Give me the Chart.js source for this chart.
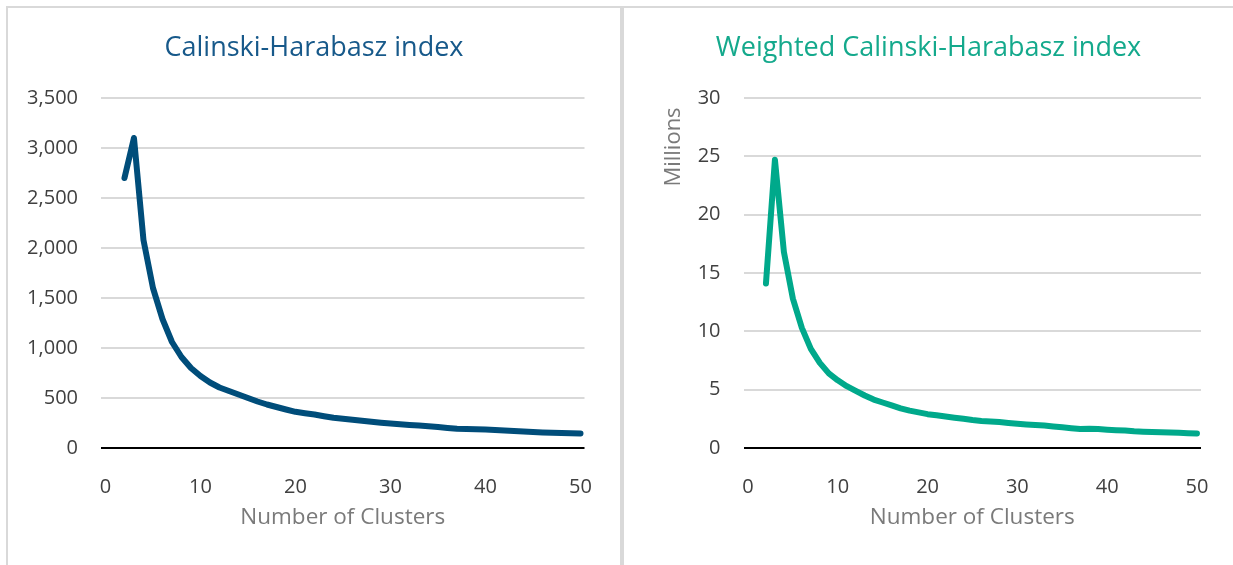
<!DOCTYPE html>
<html>
<head>
<meta charset="utf-8">
<script src="https://cdn.jsdelivr.net/npm/chart.js@4.4.0/dist/chart.umd.min.js"></script>
<style>
  body { margin: 0; background: #fff; width: 1233px; height: 565px; overflow: hidden; position: relative; }
  .frame { position: absolute; left: 6px; top: 6px; width: 1227px; height: 565px; border-top: 2px solid #d9d9d9; border-left: 2px solid #d9d9d9; box-sizing: border-box; }
  .sep { position: absolute; left: 620px; top: 6px; width: 4px; height: 565px; background: #d9d9d9; }
  .box { position: absolute; top: 8px; height: 557px; }
  #left-box { left: 8px; width: 612px; }
  #right-box { left: 624px; width: 609px; }
</style>
</head>
<body>
<div class="frame"></div>
<div class="sep"></div>
<div class="box" id="left-box"><canvas id="ch-chart"></canvas></div>
<div class="box" id="right-box"><canvas id="wch-chart"></canvas></div>
<script>
// number of clusters
const clusters = [2, 3, 4, 5, 6, 7, 8, 9, 10, 11, 12, 13, 14, 15, 16, 17, 18, 19, 20, 21, 22, 23, 24, 25, 26,
    27, 28, 29, 30, 31, 32, 33, 34, 35, 36, 37, 38, 39, 40, 41, 42, 43, 44, 45, 46, 47, 48, 49, 50];

// Calinski-Harabasz index
const chIndex = [2700, 3100, 2080, 1600, 1290, 1060, 910, 800, 720, 655, 605, 570, 535, 500, 465, 435, 410,
    385, 362, 348, 335, 318, 302, 292, 282, 272, 262, 253, 245, 238, 231, 225, 218, 209, 200, 192, 190, 188,
    185, 180, 175, 170, 165, 160, 156, 153, 150, 147, 145];

// Weighted Calinski-Harabasz index (millions)
const weightedCh = [14.1, 24.7, 16.8, 12.8, 10.3, 8.5, 7.3, 6.4, 5.8, 5.3, 4.9, 4.5, 4.15, 3.9, 3.65, 3.4,
    3.2, 3.05, 2.9, 2.8, 2.7, 2.6, 2.5, 2.4, 2.32, 2.27, 2.22, 2.15, 2.08, 2.02, 1.97, 1.92, 1.85, 1.78, 1.7,
    1.62, 1.65, 1.62, 1.57, 1.53, 1.5, 1.43, 1.4, 1.37, 1.35, 1.32, 1.3, 1.27, 1.25];

const xTicks = [0, 10, 20, 30, 40, 50];
const chTicks = [0, 500, 1000, 1500, 2000, 2500, 3000, 3500];
const wchTicks = [0, 5, 10, 15, 20, 25, 30];

const FONT = "'Open Sans', 'Noto Sans', sans-serif";

// "Millions" display unit label, like Excel puts it near the top of the axis
const millionsLabel = {
    id: 'millionsLabel',
    afterDraw(chart) {
        const area = chart.chartArea;
        const ctx = chart.ctx;
        ctx.save();
        ctx.translate(area.left - 69.5, area.top + 49);
        ctx.rotate(-Math.PI / 2);
        ctx.font = '22px ' + FONT;
        ctx.fillStyle = '#7a7a7a';
        ctx.textAlign = 'center';
        ctx.textBaseline = 'middle';
        ctx.fillText('Millions', 0, 0);
        ctx.restore();
    }
};

function makeChart(canvas, opts) {
    const config = {
        type: 'line',
        data: {
            datasets: [{
                data: clusters.map((c, i) => ({ x: c, y: opts.values[i] })),
                borderColor: opts.lineColor,
                borderWidth: 6,
                borderCapStyle: 'round',
                borderJoinStyle: 'round',
                pointRadius: 0,
                tension: 0,
                fill: false
            }]
        },
        options: {
            responsive: true,
            maintainAspectRatio: false,
            animation: false,
            layout: { padding: 0 },
            plugins: {
                legend: { display: false },
                tooltip: { enabled: false },
                title: {
                    display: true,
                    text: opts.title,
                    color: opts.titleColor,
                    font: { family: FONT, size: 27, weight: 'normal' },
                    padding: { top: 24, bottom: 33.6 }
                }
            },
            scales: {
                x: {
                    type: 'linear',
                    min: opts.xMin,
                    max: opts.xMax,
                    afterBuildTicks: (scale) => { scale.ticks = xTicks.map(v => ({ value: v })); },
                    afterFit: (scale) => { scale.height = 117; },
                    grid: { display: false },
                    border: { display: false },
                    ticks: { color: '#404040', padding: 19, font: { family: FONT, size: 20 } },
                    title: {
                        display: true,
                        text: 'Number of Clusters',
                        color: '#7a7a7a',
                        font: { family: FONT, size: 22.5 },
                        padding: { top: 0, bottom: 34 }
                    }
                },
                y: {
                    min: 0,
                    max: opts.yTicks[opts.yTicks.length - 1],
                    afterBuildTicks: (scale) => { scale.ticks = opts.yTicks.map(v => ({ value: v })); },
                    afterFit: (scale) => { scale.width = opts.yWidth; },
                    grid: {
                        drawTicks: false,
                        lineWidth: 2,
                        color: (c) => c.tick && c.tick.value === 0 ? '#000000' : '#d9d9d9'
                    },
                    border: { display: false },
                    ticks: {
                        color: '#404040',
                        padding: 23,
                        font: { family: FONT, size: 20 },
                        callback: (v) => v.toLocaleString('en-US')
                    }
                },
                // empty right axis, only keeps the white margin on the right of the plot
                spacer: {
                    position: 'right',
                    min: 0,
                    max: 1,
                    afterFit: (scale) => { scale.width = opts.rightGap; },
                    grid: { display: false },
                    border: { display: false },
                    ticks: { display: false }
                }
            }
        },
        plugins: opts.plugins || []
    };
    return new Chart(canvas, config);
}

makeChart(document.querySelector('#ch-chart'), {
    values: chIndex,
    title: 'Calinski-Harabasz index',
    titleColor: '#17598a',
    lineColor: '#004d7a',
    yTicks: chTicks,
    yWidth: 93,
    rightGap: 35.5,
    xMin: -0.47,
    xMax: 50.42
});

makeChart(document.querySelector('#wch-chart'), {
    values: weightedCh,
    title: 'Weighted Calinski-Harabasz index',
    titleColor: '#14a98c',
    lineColor: '#00a98b',
    yTicks: wchTicks,
    yWidth: 119.5,
    rightGap: 32,
    xMin: -0.5,
    xMax: 50.45,
    plugins: [millionsLabel]
});
</script>
</body>
</html>
